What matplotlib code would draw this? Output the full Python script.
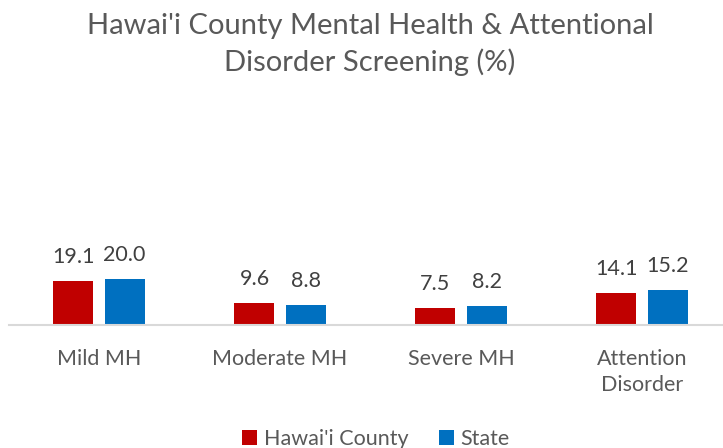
import numpy as np
import matplotlib
matplotlib.use("Agg")
import matplotlib.pyplot as plt

categories = ["Mild MH", "Moderate MH", "Severe MH", "Attention\nDisorder"]
hawaii_county = [19.1, 9.6, 7.5, 14.1]
state = [20.0, 8.8, 8.2, 15.2]
series_names = ["Hawai'i County", "State"]

plt.rcParams['font.family'] = ['Lato', 'DejaVu Sans']

fig = plt.figure(figsize=(7.23, 4.48), dpi=100)
ax = fig.add_axes([8.5 / 723, 123 / 448, 724 / 723, 230 / 448])

x = np.arange(len(categories))
width = 0.221
off = 0.141

b1 = ax.bar(x - off, hawaii_county, width, color='#c00000', label=series_names[0])
b2 = ax.bar(x + off, state, width, color='#0070c0', label=series_names[1])

for bars in (b1, b2):
    for r in bars:
        ax.annotate(f"{r.get_height():.1f}", (r.get_x() + r.get_width() / 2, r.get_height()),
                    xytext=(0, 10), textcoords='offset points', ha='center', va='bottom',
                    fontsize=15.5, color='#404040')

ax.set_xlim(-0.5, len(categories) - 0.5)
ax.set_ylim(0, 100)
ax.set_yticks([])
ax.set_xticks(x)
ax.set_xticklabels(categories, fontsize=15.5, color='#595959', linespacing=1.4)
ax.tick_params(axis='x', length=0, pad=17)
for s in ('top', 'right', 'left'):
    ax.spines[s].set_visible(False)
ax.spines['bottom'].set_color('#d9d9d9')
ax.spines['bottom'].set_linewidth(1.5)

fig.text(0.512, 0.9, "Hawai'i County Mental Health & Attentional\nDisorder Screening (%)",
         ha='center', va='center', fontsize=21, color='#595959', linespacing=1.4)

fig.legend(loc='lower center', bbox_to_anchor=(0.52, -0.045), ncol=2, frameon=False,
           fontsize=15.5, labelcolor='#595959', handlelength=0.7, handleheight=0.7,
           handletextpad=0.3, columnspacing=1.4)

fig.savefig("out.png", dpi=100)
